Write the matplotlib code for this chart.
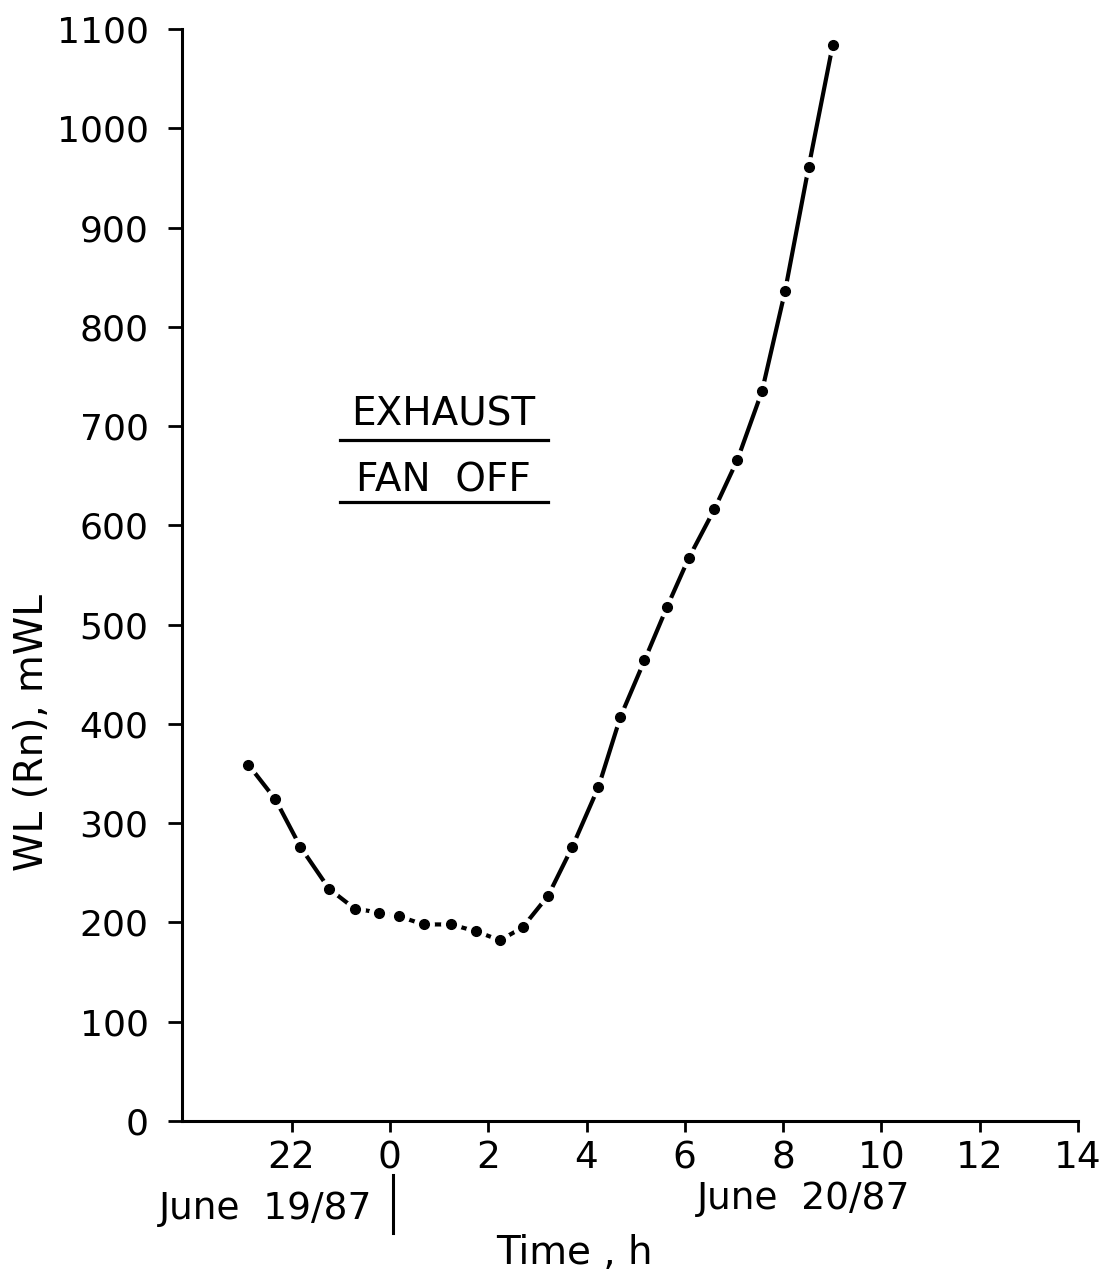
import matplotlib
matplotlib.use("Agg")
import matplotlib.pyplot as plt
from matplotlib.lines import Line2D

# data: hours relative to midnight June 19/20, WL(Rn) in mWL
hours = [-2.88, -2.33, -1.82, -1.24, -0.72, -0.23, 0.19, 0.69, 1.24, 1.76,
         2.24, 2.70, 3.22, 3.71, 4.24, 4.69, 5.18, 5.64, 6.08, 6.60,
         7.07, 7.57, 8.04, 8.52, 9.01]
wl = [359, 324, 276, 234, 214, 210, 206, 198, 198, 191,
      182, 195, 227, 276, 336, 407, 464, 518, 567, 616,
      666, 735, 836, 961, 1084]

xtick_pos = [-2, 0, 2, 4, 6, 8, 10, 12, 14]
xtick_lab = ["22", "0", "2", "4", "6", "8", "10", "12", "14"]
ytick_pos = list(range(0, 1101, 100))

W, H = 1108, 1278
fig = plt.figure(figsize=(W / 100, H / 100), dpi=100)
ax = fig.add_axes([182 / W, (H - 1121) / H, (1078 - 182) / W, (1121 - 29) / H])

FONT = dict(family="DejaVu Sans")

# line with gaps around each dot (white halo), then the dots
ax.plot(hours, wl, color="black", lw=3, solid_capstyle="butt", zorder=2)
ax.plot(hours, wl, "o", ms=14, color="white", mec="white", zorder=3)
ax.plot(hours, wl, "o", ms=7, color="black", zorder=4)

ax.set_xlim(-4.23, 14)
ax.set_ylim(0, 1100)
for s in ["top", "right"]:
    ax.spines[s].set_visible(False)
for s in ["left", "bottom"]:
    ax.spines[s].set_linewidth(2.2)

ax.set_xticks(xtick_pos)
ax.set_xticklabels(xtick_lab, fontsize=27, **FONT)
ax.set_yticks(ytick_pos)
ax.set_yticklabels([str(v) for v in ytick_pos], fontsize=26, **FONT)
ax.tick_params(axis="x", length=8, width=2, pad=6)
ax.tick_params(axis="y", length=10, width=2, pad=14)

fig.text(32 / W, 1 - 732 / H, "WL (Rn), mWL", rotation=90, ha="center",
         va="center", fontsize=28, **FONT)

# annotation with underlines
fig.text(443 / W, 1 - 415 / H, "EXHAUST", ha="center", va="center",
         fontsize=28, **FONT)
fig.text(443 / W, 1 - 481 / H, "FAN  OFF", ha="center", va="center",
         fontsize=28, **FONT)
for yy in [440, 502]:
    fig.add_artist(Line2D([340 / W, 548 / W], [1 - yy / H, 1 - yy / H],
                          color="black", lw=2.3, transform=fig.transFigure))

# date labels under the axis
fig.text(266 / W, 1 - 1209 / H, "June  19/87", ha="center", va="center",
         fontsize=27, **FONT)
fig.add_artist(Line2D([393 / W, 393 / W], [1 - 1175 / H, 1 - 1233 / H],
                      color="black", lw=2.2, transform=fig.transFigure))
fig.text(804 / W, 1 - 1199 / H, "June  20/87", ha="center", va="center",
         fontsize=27, **FONT)
fig.text(574 / W, 1 - 1253 / H, "Time , h", ha="center", va="center",
         fontsize=28, **FONT)

fig.savefig("out.png", dpi=100, facecolor="white")
